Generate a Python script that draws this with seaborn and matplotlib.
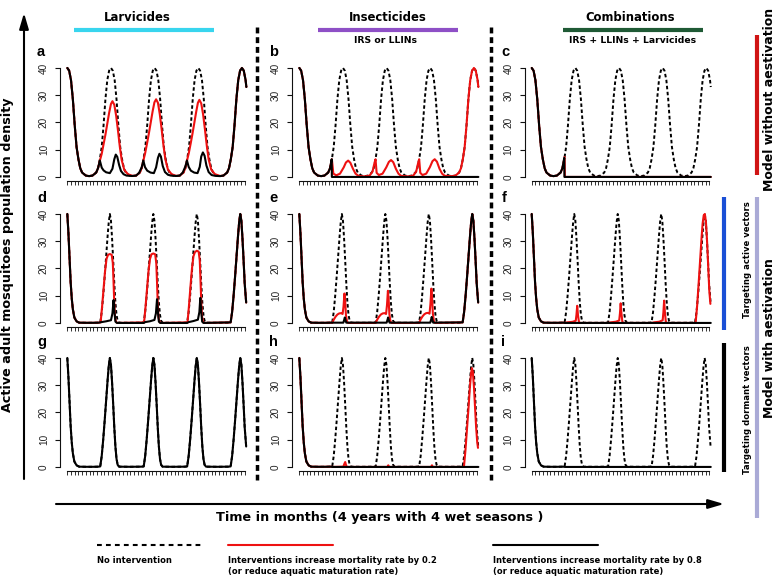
import matplotlib
matplotlib.use("Agg")
import matplotlib.pyplot as plt
import seaborn as sns

# ---------------- data (months, adult density) ----------------
# model without aestivation: common first dry season and last wet season
NA_HEAD_T = [0, 0.5, 1.0, 1.5, 2.0, 2.5, 3.0, 3.5, 4.0, 5.0, 5.9, 6.8, 7.8, 8.3]
NA_HEAD_V = [40, 39, 35.5, 28.5, 19, 11, 6.5, 3.2, 1.6, 0.5, 0.3, 0.5, 1.6, 3.2]
NA_TAIL_T = [42.2, 43.2, 43.7, 44.2, 44.7, 45.2, 45.7, 46.2, 46.7, 47.2, 47.7, 48.2, 48.4]
NA_TAIL_V = [0.5, 1.6, 3.2, 6.5, 11, 19, 28.5, 35.5, 39, 40, 39, 35.5, 33]

NA_DASH_T = [8.8, 9.3, 9.8, 10.3, 10.8, 11.3, 11.8, 12.3, 12.8, 13.3, 13.8, 14.3, 14.8, 15.3, 15.8, 16.8, 17.7,
             18.6, 19.6, 20.1,
             20.6, 21.1, 21.6, 22.1, 22.6, 23.1, 23.6, 24.1, 24.6, 25.1, 25.6, 26.1, 26.6, 27.1, 27.6, 28.6, 29.5,
             30.4, 31.4, 31.9,
             32.4, 32.9, 33.4, 33.9, 34.4, 34.9, 35.4, 35.9, 36.4, 36.9, 37.4, 37.9, 38.4, 38.9, 39.4, 40.4, 41.3]
NA_DASH_V = [6.5, 11, 19, 28.5, 35.5, 39, 40, 39, 35.5, 28.5, 19, 11, 6.5, 3.2, 1.6, 0.5, 0.3,
             0.5, 1.6, 3.2,
             6.5, 11, 19, 28.5, 35.5, 39, 40, 39, 35.5, 28.5, 19, 11, 6.5, 3.2, 1.6, 0.5, 0.3,
             0.5, 1.6, 3.2,
             6.5, 11, 19, 28.5, 35.5, 39, 40, 39, 35.5, 28.5, 19, 11, 6.5, 3.2, 1.6, 0.5, 0.3]

# panel a
A_BLACK_T = [8.8, 9.3, 9.8, 10.5, 11.5, 12.2, 12.7, 13.1, 13.5, 14.0, 14.5, 15.2, 16.0, 17.5, 18.6,
             19.4, 20.1, 20.55, 21.0, 21.6, 22.5, 23.4, 24.0, 24.5, 24.9, 25.3, 25.8, 26.4, 27.2, 28.0,
             29.4, 30.4, 31.2, 31.9, 32.35, 32.8, 33.4, 34.3, 35.2, 35.8, 36.2, 36.65, 37.1, 37.6, 38.2,
             39.0, 40.0, 41.3]
A_BLACK_V = [6.0, 3.4, 2.4, 1.7, 1.4, 3.0, 6.5, 8.2, 7.4, 4.4, 2.2, 1.0, 0.5, 0.35, 0.5,
             1.5, 3.5, 6.0, 3.6, 2.3, 1.6, 1.4, 3.5, 7.0, 8.5, 7.5, 4.0, 1.8, 0.8, 0.5,
             0.35, 0.5, 1.6, 3.8, 6.0, 3.7, 2.3, 1.6, 1.4, 3.7, 7.5, 9.0, 7.8, 4.2, 1.8,
             0.7, 0.4, 0.3]
A_RED_T = [8.8, 9.3, 9.8, 10.3, 10.8, 11.3, 11.8, 12.2, 12.7, 13.2, 13.7, 14.2, 14.7, 15.4, 16.4, 17.6,
           18.6, 19.6, 20.1,
           20.55, 21.05, 21.55, 22.05, 22.55, 23.05, 23.55, 24.0, 24.5, 25.0, 25.5, 26.0, 26.5, 27.2, 28.2, 29.4,
           30.4, 31.4, 31.9,
           32.35, 32.85, 33.35, 33.85, 34.35, 34.85, 35.3, 35.7, 36.2, 36.7, 37.2, 37.7, 38.2, 38.9, 39.9, 41.3]
A_RED_V = [6.0, 8.5, 12, 15.5, 19.5, 23.5, 26.8, 27.8, 26.5, 22.5, 17, 11, 6.2, 2.6, 1.0, 0.4,
           0.5, 1.6, 3.2,
           6.0, 8.8, 12.3, 16, 20, 24, 27.4, 28.5, 27.2, 23, 17.5, 11.5, 6.5, 2.7, 1.0, 0.4,
           0.5, 1.6, 3.2,
           6.0, 8.8, 12.3, 16, 20, 24, 27.2, 28.3, 27, 23, 17.5, 11.5, 6.5, 2.7, 1.0, 0.35]

# panel b
B_BLACK_T = [8.75, 8.8, 48.4]
B_BLACK_V = [6.5, 0, 0]
B_RED_T = [8.8, 9.2, 10.0, 11.0, 12.0, 12.6, 13.2, 13.8, 14.5, 15.2, 16.0, 17.5, 19.0, 19.8, 20.3,
           20.6, 20.9, 21.5, 22.5, 23.5, 24.2, 24.8, 25.4, 26.1, 26.8, 27.5, 29.4, 30.8, 31.6, 32.1,
           32.4, 32.7, 33.3, 34.3, 35.3, 36.0, 36.6, 37.2, 37.9, 38.6, 39.3, 41.3]
B_RED_V = [6.5, 1.2, 0.6, 1.2, 3.5, 5.3, 6.0, 5.2, 3.0, 1.2, 0.4, 0.2, 0.5, 2.0, 5.0,
           6.5, 1.5, 0.7, 1.2, 3.5, 5.5, 6.2, 5.4, 3.0, 1.2, 0.4, 0.2, 0.5, 2.0, 5.0,
           6.5, 1.5, 0.7, 1.2, 3.6, 5.8, 6.5, 5.6, 3.0, 1.2, 0.4, 0.3]

# panel c
C_BLACK_T = [8.8, 8.85, 48.4]
C_BLACK_V = [7.0, 0, 0]
C_RED_T = [8.9, 8.95, 48.4]
C_RED_V = [7.3, 0, 0]

# model with aestivation: common first dry season and last wet season
AE_HEAD_T = [0, 0.3, 0.6, 0.9, 1.2, 1.5, 1.9, 2.5, 3.2, 5.0, 7.0, 8.5]
AE_HEAD_V = [40, 33, 24, 15, 9, 5, 2, 0.6, 0.1, 0.05, 0.05, 0.1]
AE_TAIL_T = [44.15, 44.55, 44.95, 45.35, 45.75, 46.15, 46.45, 46.75, 47.05, 47.35, 47.65, 47.95, 48.35]
AE_TAIL_V = [0.2, 4, 10, 17, 24.5, 32, 37, 40, 37.5, 31, 23, 14.5, 7.5]

AE_DASH_T = [8.9, 9.3, 9.7, 10.1, 10.5, 10.9, 11.2, 11.5, 11.8, 12.1, 12.4, 12.7, 13.0, 13.3, 13.6, 14.0,
             17.0, 20.0,
             20.65, 21.05, 21.45, 21.85, 22.25, 22.65, 22.95, 23.25, 23.55, 23.85, 24.15, 24.45, 24.75, 25.05,
             25.35, 25.75,
             28.5, 31.8,
             32.4, 32.8, 33.2, 33.6, 34.0, 34.4, 34.7, 35.0, 35.3, 35.6, 35.9, 36.2, 36.5, 36.8, 37.1, 37.5,
             40.5, 43.6]
AE_DASH_V = [0.2, 4, 10, 17, 24.5, 32, 37, 40, 37.5, 31, 23, 14.5, 7.5, 3, 0.8, 0.1,
             0.05, 0.1,
             0.2, 4, 10, 17, 24.5, 32, 37, 40, 37.5, 31, 23, 14.5, 7.5, 3,
             0.8, 0.1,
             0.05, 0.1,
             0.2, 4, 10, 17, 24.5, 32, 37, 40, 37.5, 31, 23, 14.5, 7.5, 3, 0.8, 0.1,
             0.05, 0.1]

# panel d
D_BLACK_T = [9.2, 10.5, 11.8, 12.2, 12.5, 12.75, 13.0, 13.4, 20.7, 21.0, 22.3, 23.55, 23.95, 24.25, 24.5,
             24.75, 25.1, 32.4, 32.8, 34.1, 35.3, 35.7, 35.95, 36.2, 36.45, 36.8]
D_BLACK_V = [0.3, 0.6, 1.0, 3.5, 8.4, 4.0, 0.5, 0.0, 0.0, 0.3, 0.6, 1.1, 3.5, 8.7, 4.0,
             0.5, 0.0, 0.0, 0.3, 0.7, 1.2, 4.0, 9.2, 4.2, 0.5, 0.0]
D_RED_T = [9.0, 9.4, 9.8, 10.2, 10.6, 11.0, 11.5, 12.0, 12.3, 12.5, 12.7, 12.9, 13.2, 13.6,
           20.75, 21.15, 21.55, 21.95, 22.35, 22.75, 23.25, 23.75, 24.05, 24.25, 24.45, 24.65, 24.95, 25.35,
           32.5, 32.9, 33.3, 33.7, 34.1, 34.5, 35.0, 35.5, 35.8, 36.0, 36.2, 36.4, 36.7, 37.1]
D_RED_V = [0.2, 6, 12.5, 19, 23.5, 25, 25.3, 25, 22, 15, 7, 2, 0.3, 0,
           0.2, 6, 12.5, 19, 23.5, 25.2, 25.5, 25.2, 22, 15, 7, 2, 0.3, 0,
           0.2, 6.5, 13.5, 20, 24.5, 26, 26.5, 26.2, 23, 16, 8, 2.5, 0.3, 0]

# panel e
E_BLACK_T = [11.9, 12.15, 12.3, 12.5, 12.7, 23.6, 23.85, 24.0, 24.2, 24.4, 35.4, 35.65, 35.8, 36.0, 36.2]
E_BLACK_V = [0.1, 1.2, 2.0, 1.0, 0.1, 0.1, 1.2, 2.0, 1.0, 0.1, 0.1, 1.3, 2.2, 1.0, 0.1]
E_RED_T = [8.9, 9.3, 9.8, 10.3, 10.8, 11.3, 11.7, 11.95, 12.2, 12.4, 12.6, 12.9, 13.2,
           20.65, 21.05, 21.55, 22.05, 22.55, 23.05, 23.45, 23.7, 23.95, 24.15, 24.35, 24.65, 24.95,
           32.4, 32.8, 33.3, 33.8, 34.3, 34.8, 35.2, 35.45, 35.7, 35.9, 36.1, 36.4, 36.7]
E_RED_V = [0, 1.2, 2.3, 3.1, 3.5, 3.6, 3.3, 6, 10.8, 8, 3, 0.5, 0,
           0, 1.2, 2.3, 3.1, 3.5, 3.6, 3.3, 6.5, 11.8, 8.5, 3.2, 0.5, 0,
           0, 1.3, 2.4, 3.2, 3.6, 3.7, 3.4, 7, 12.6, 9, 3.4, 0.5, 0]

# panels f, h, i: black stays at zero after the first dry season
FLAT_T = [9.0, 48.4]
FLAT_V = [0, 0]
F_RED_T = [9.0, 9.5, 11.0, 11.9, 12.1, 12.3, 12.5, 12.75, 13.0,
           20.75, 21.25, 22.75, 23.65, 23.85, 24.05, 24.25, 24.5, 24.75,
           32.5, 33.0, 34.5, 35.4, 35.6, 35.8, 36.0, 36.25, 36.5,
           44.3, 44.7, 45.1, 45.5, 45.9, 46.2, 46.5, 46.8, 47.1, 47.4, 47.7, 48.0, 48.3]
F_RED_V = [0, 0.2, 0.4, 0.8, 3, 6.3, 3, 0.5, 0,
           0, 0.2, 0.45, 0.9, 3.5, 7.2, 3.5, 0.5, 0,
           0, 0.2, 0.45, 1.0, 4, 8.2, 4, 0.5, 0,
           0, 6, 14, 22.5, 31, 36.5, 39.5, 40, 37, 30, 21, 12, 7]
H_RED_T = [9.0, 11.9, 12.2, 12.4, 12.6, 12.85, 23.8, 24.05, 24.3, 35.6, 35.85, 36.1,
           44.5, 44.9, 45.3, 45.7, 46.1, 46.4, 46.65, 46.9, 47.2, 47.5, 47.8, 48.1, 48.3]
H_RED_V = [0, 0.1, 1.2, 1.8, 0.8, 0, 0, 0.6, 0, 0, 0.6, 0,
           0, 6, 13.5, 21, 29, 34, 36.3, 35, 29.5, 22, 14.5, 9, 7]

MONTH_TICKS = list(range(0, 49))
DENSITY_TICKS = [0, 10, 20, 30, 40]
PANEL_LETTERS = ["a", "b", "c", "d", "e", "f", "g", "h", "i"]
COLUMN_TITLES = ["Larvicides", "Insecticides", "Combinations"]
COLUMN_SUBTITLES = ["", "IRS or LLINs", "IRS + LLINs + Larvicides"]
LEGEND_LABELS = ["No intervention",
                 "Interventions increase mortality rate by 0.2\n(or reduce aquatic maturation rate)",
                 "Interventions increase mortality rate by 0.8\n(or reduce aquatic maturation rate)"]

# full series per panel: (dashed, red, black)
na_dash = (NA_HEAD_T + NA_DASH_T + NA_TAIL_T, NA_HEAD_V + NA_DASH_V + NA_TAIL_V)
ae_dash = (AE_HEAD_T + AE_DASH_T + AE_TAIL_T, AE_HEAD_V + AE_DASH_V + AE_TAIL_V)
ae_flat = (AE_HEAD_T + FLAT_T, AE_HEAD_V + FLAT_V)
PANELS = [
    (na_dash, (NA_HEAD_T + A_RED_T + NA_TAIL_T, NA_HEAD_V + A_RED_V + NA_TAIL_V),
     (NA_HEAD_T + A_BLACK_T + NA_TAIL_T, NA_HEAD_V + A_BLACK_V + NA_TAIL_V)),
    (na_dash, (NA_HEAD_T + B_RED_T + NA_TAIL_T, NA_HEAD_V + B_RED_V + NA_TAIL_V),
     (NA_HEAD_T + B_BLACK_T, NA_HEAD_V + B_BLACK_V)),
    (na_dash, (NA_HEAD_T + C_RED_T, NA_HEAD_V + C_RED_V),
     (NA_HEAD_T + C_BLACK_T, NA_HEAD_V + C_BLACK_V)),
    (ae_dash, (AE_HEAD_T + D_RED_T + AE_TAIL_T, AE_HEAD_V + D_RED_V + AE_TAIL_V),
     (AE_HEAD_T + D_BLACK_T + AE_TAIL_T, AE_HEAD_V + D_BLACK_V + AE_TAIL_V)),
    (ae_dash, (AE_HEAD_T + E_RED_T + AE_TAIL_T, AE_HEAD_V + E_RED_V + AE_TAIL_V),
     (AE_HEAD_T + E_BLACK_T + AE_TAIL_T, AE_HEAD_V + E_BLACK_V + AE_TAIL_V)),
    (ae_dash, (AE_HEAD_T + F_RED_T, AE_HEAD_V + F_RED_V), ae_flat),
    (ae_dash, None, ae_dash),
    (ae_dash, (AE_HEAD_T + H_RED_T, AE_HEAD_V + H_RED_V), ae_flat),
    (ae_dash, None, ae_flat),
]

RED = "#ee1111"
W, H = 778, 577

sns.set_style("white")
plt.rcParams["font.family"] = ["DejaVu Sans"]
plt.rcParams["text.color"] = "black"

fig = plt.figure(figsize=(W / 100, H / 100), dpi=100)
deco = fig.add_axes([0, 0, 1, 1])
deco.set_xlim(0, W)
deco.set_ylim(H, 0)
deco.axis("off")

col_left = [60.1, 292.1, 524.5]
row_top = [63.6, 209.6, 353.6]
ax_w, ax_h = 194.4, 117.7

for i, (dash, red, black) in enumerate(PANELS):
    r, c = divmod(i, 3)
    ax = fig.add_axes([col_left[c] / W, 1 - (row_top[r] + ax_h) / H, ax_w / W, ax_h / H])
    ax.set_facecolor("none")
    sns.lineplot(x=dash[0], y=dash[1], ax=ax, color="black", linewidth=1.4,
                 linestyle=(0, (1.8, 1.3)), estimator=None, sort=False, zorder=1)
    if red is not None:
        sns.lineplot(x=red[0], y=red[1], ax=ax, color=RED, linewidth=1.5,
                     estimator=None, sort=False, zorder=2)
    sns.lineplot(x=black[0], y=black[1], ax=ax, color="black", linewidth=1.5,
                 estimator=None, sort=False, zorder=3)
    ax.set_xlim(-1.95, 50.6)
    ax.set_ylim(-1.6, 41.6)
    ax.set_xlabel("")
    ax.set_ylabel("")
    for s in ["top", "right"]:
        ax.spines[s].set_visible(False)
    ax.spines["left"].set_bounds(0, 40)
    ax.spines["bottom"].set_bounds(0, 48)
    for s in ["left", "bottom"]:
        ax.spines[s].set_linewidth(0.8)
        ax.spines[s].set_color("#111111")
    ax.set_xticks(MONTH_TICKS)
    ax.set_xticklabels([])
    ax.set_yticks(DENSITY_TICKS)
    ax.set_yticklabels([str(v) for v in DENSITY_TICKS], rotation=90, va="center",
                       family="Liberation Sans", fontsize=7.2, color="#222222")
    ax.tick_params(axis="x", length=3.2, width=0.6, color="#111111", bottom=True)
    ax.tick_params(axis="y", length=3.6, width=0.8, color="#111111", pad=4.5, left=True)
    deco.text(col_left[c] - 23, row_top[r] - 8, PANEL_LETTERS[i], ha="left", va="baseline",
              fontsize=10.5, fontweight="bold", family="Liberation Sans", color="black")

# column headers
title_x = [137, 388, 630.5]
sub_x = [137, 386, 633]
bar_spans = [(74, 214), (318, 458), (563, 703)]
bar_colors = ["#38d5ee", "#8e4fc6", "#1f5a35"]
for k in range(3):
    deco.text(title_x[k], 20.7, COLUMN_TITLES[k], ha="center", va="baseline",
              fontsize=8.4, fontweight="bold", color="black")
    deco.plot(bar_spans[k], [29.7, 29.7], color=bar_colors[k], lw=3.0, solid_capstyle="butt")
    if COLUMN_SUBTITLES[k]:
        deco.text(sub_x[k], 42.7, COLUMN_SUBTITLES[k], ha="center", va="baseline",
                  fontsize=6.7, fontweight="bold", color="black")

# dashed separators between columns
for xs in [256.7, 490.7]:
    deco.plot([xs, xs], [27, 480], color="black", lw=2.5, linestyle=(0, (1.7, 1.1)),
              solid_capstyle="butt", dash_capstyle="butt")

# axis arrows and titles
arrow = dict(arrowstyle="-|>,head_length=0.95,head_width=0.28", lw=1.5, color="black",
             shrinkA=0, shrinkB=0, mutation_scale=10)
deco.annotate("", xy=(24, 13), xytext=(24, 479), arrowprops=arrow)
deco.annotate("", xy=(724, 504), xytext=(56, 504), arrowprops=arrow)
deco.text(7.5, 254.5, "Active adult mosquitoes population density", rotation=90,
          ha="center", va="center", fontsize=9.2, fontweight="bold", color="black")
deco.text(379.5, 517.5, "Time in months (4 years with 4 wet seasons )", ha="center", va="center",
          fontsize=9.2, fontweight="bold", color="black")

# right side bars
deco.plot([757, 757], [35, 175], color="#d01414", lw=3.0, solid_capstyle="butt")
deco.text(770, 99, "Model without aestivation", rotation=90, ha="center", va="center",
          fontsize=9.0, fontweight="bold", color="black")
deco.plot([757, 757], [197, 518], color="#aaaad6", lw=3.0, solid_capstyle="butt")
deco.text(770, 338, "Model with aestivation", rotation=90, ha="center", va="center",
          fontsize=9.0, fontweight="bold", color="black")
deco.plot([724, 724], [197, 330], color="#1a4fd6", lw=3.0, solid_capstyle="butt")
deco.text(748, 260, "Targeting active vectors", rotation=90, ha="center", va="center",
          fontsize=6.1, fontweight="bold", color="black")
deco.plot([724, 724], [343, 472], color="black", lw=3.0, solid_capstyle="butt")
deco.text(748, 410, "Targeting dormant vectors", rotation=90, ha="center", va="center",
          fontsize=6.1, fontweight="bold", color="black")

# legend
leg_x = [97, 228, 493]
leg_styles = [dict(color="black", linestyle=(0, (2.3, 2.0))), dict(color=RED), dict(color="black")]
for k in range(3):
    deco.plot([leg_x[k], leg_x[k] + 105], [545, 545], lw=1.5, **leg_styles[k])
    deco.text(leg_x[k], 556, LEGEND_LABELS[k], ha="left", va="top", fontsize=6.0,
              fontweight="bold", linespacing=1.25, color="black")

fig.savefig("out.png", dpi=100)
